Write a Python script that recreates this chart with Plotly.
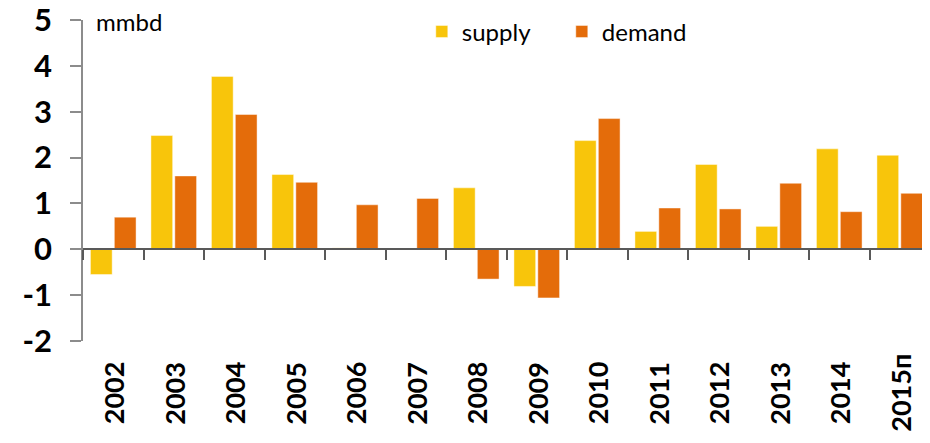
import plotly.graph_objects as go

years = ["2002", "2003", "2004", "2005", "2006", "2007", "2008",
         "2009", "2010", "2011", "2012", "2013", "2014", "2015п"]
supply = [-0.55, 2.48, 3.77, 1.63, 0.03, 0.0, 1.34,
          -0.81, 2.37, 0.39, 1.85, 0.50, 2.19, 2.05]
demand = [0.70, 1.60, 2.94, 1.46, 0.97, 1.11, -0.65,
          -1.06, 2.85, 0.90, 0.88, 1.44, 0.82, 1.22]
y_ticks = [-2, -1, 0, 1, 2, 3, 4, 5]
y_tick_text = ["-2", "-1", "0", "1", "2", "3", "4", "5"]
unit_label = "mmbd"

SUPPLY_C = "#F8C50B"
DEMAND_C = "#E46C0A"
FONT = "Lato"
Y_MIN, Y_MAX = -2, 5

fig = go.Figure()
fig.add_trace(go.Bar(name="supply", x=years, y=supply,
                     marker=dict(color=SUPPLY_C, line=dict(color="rgba(255,255,255,0.45)", width=1))))
fig.add_trace(go.Bar(name="demand", x=years, y=demand,
                     marker=dict(color=DEMAND_C, line=dict(color="rgba(255,255,255,0.45)", width=1))))
# invisible trace to carry the secondary x axis (ticks on the zero line)
fig.add_trace(go.Scatter(x=years, y=[None] * len(years), xaxis="x2", showlegend=False,
                         hoverinfo="skip"))

zero_pos = (0 - Y_MIN) / (Y_MAX - Y_MIN)

# the page body has an 8px default margin, so the figure is 8px smaller
fig.update_layout(
    width=922, height=435,
    margin=dict(l=75, r=0, t=12, b=102, autoexpand=False),
    paper_bgcolor="white", plot_bgcolor="white",
    barmode="group", bargap=0.21, bargroupgap=0.09,
    font=dict(family=FONT, color="black"),
    showlegend=True,
    legend=dict(orientation="h", x=0.4, y=0.963, xanchor="left", yanchor="middle",
                font=dict(size=24, family=FONT, color="black"),
                entrywidth=95, entrywidthmode="pixels",
                bgcolor="rgba(0,0,0,0)", itemclick=False),
    xaxis=dict(type="category", showline=False, showticklabels=False, ticks="",
               showgrid=False, zeroline=False, range=[-0.5, len(years) - 0.5]),
    xaxis2=dict(type="category", overlaying="x", anchor="free", position=zero_pos,
                side="bottom", showline=True, linecolor="#595959", linewidth=1.5,
                ticks="outside", tickson="boundaries", ticklen=10, tickwidth=1.5,
                tickcolor="#595959", showticklabels=False, showgrid=False,
                range=[-0.5, len(years) - 0.5]),
    yaxis=dict(range=[Y_MIN, Y_MAX], tickvals=y_ticks, ticktext=y_tick_text,
               showgrid=False, zeroline=False,
               showline=True, linecolor="#8c8c8c", linewidth=1.5,
               ticks="outside", ticklen=11, tickcolor="#8c8c8c", tickwidth=1.5,
               ticklabelstandoff=12, ticklabeloverflow="allow",
               tickfont=dict(size=31, family=FONT, weight="bold", color="black")),
)

annotations = [dict(text=unit_label, xref="paper", yref="paper", x=0.013, y=0.994,
                    xanchor="left", yanchor="middle", showarrow=False,
                    font=dict(size=24, family=FONT, color="black"))]
for i, yr in enumerate(years):
    annotations.append(dict(text=yr, x=i, xref="x", yref="paper", y=0, yshift=-52,
                            textangle=-90, xanchor="center", yanchor="middle",
                            showarrow=False,
                            font=dict(size=27, family=FONT, weight="bold", color="black")))
fig.update_layout(annotations=annotations)

fig.write_html("out.html")
